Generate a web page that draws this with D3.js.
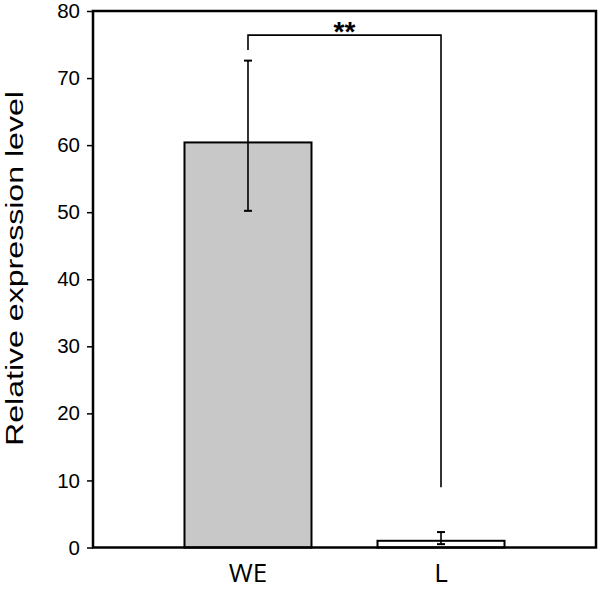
<!DOCTYPE html>
<html>
<head>
<meta charset="utf-8">
<script src="https://cdn.jsdelivr.net/npm/d3@7"></script>
<style>
  html, body { margin: 0; padding: 0; background: #fff; }
  svg { display: block; }
</style>
</head>
<body>
<div id="chart"></div>
<script>
// --- data ---
const categories = ['WE', 'L'];
const means = [60.4, 1.0];
const errHigh = [72.6, 2.3];
const errLow = [50.2, 0.5];
const barColors = ['#c8c8c8', '#ffffff'];
const yTicks = [0, 10, 20, 30, 40, 50, 60, 70, 80];
const yLabel = 'Relative expression level';
// significance bracket: [left leg end, bracket height, right leg end]
const bracket = { from: 'WE', to: 'L', leftEnd: 74.2, top: 76.4, rightEnd: 9.0, label: '**' };

const W = 600, H = 589;
const margin = { top: 11, right: 4, bottom: 41.5, left: 93 };
const width = W - margin.left - margin.right;
const height = H - margin.top - margin.bottom;

const svg = d3.select('#chart').append('svg')
    .attr('width', W)
    .attr('height', H);

const g = svg.append('g')
    .attr('transform', `translate(${margin.left},${margin.top})`);

const x = d3.scaleBand()
    .domain(categories)
    .range([0, width])
    .paddingInner(0.342)
    .paddingOuter(0.474);

const y = d3.scaleLinear()
    .domain([0, 80])
    .range([height, 0]);

// bars
g.selectAll('rect.bar')
    .data(categories)
    .enter().append('rect')
    .attr('class', 'bar')
    .attr('x', d => x(d))
    .attr('y', (d, i) => y(means[i]))
    .attr('width', x.bandwidth())
    .attr('height', (d, i) => y(0) - y(means[i]))
    .attr('fill', (d, i) => barColors[i])
    .attr('stroke', '#000')
    .attr('stroke-width', 2);

// error bars
const cx = d => x(d) + x.bandwidth() / 2;
const err = g.selectAll('g.err')
    .data(categories)
    .enter().append('g')
    .attr('class', 'err');

err.append('line')
    .attr('x1', cx).attr('x2', cx)
    .attr('y1', (d, i) => y(errLow[i]))
    .attr('y2', (d, i) => y(errHigh[i]))
    .attr('stroke', '#000')
    .attr('stroke-width', 1.6);

[errLow, errHigh].forEach(vals => {
    err.append('line')
        .attr('x1', d => cx(d) - 4).attr('x2', d => cx(d) + 4)
        .attr('y1', (d, i) => y(vals[i]))
        .attr('y2', (d, i) => y(vals[i]))
        .attr('stroke', '#000')
        .attr('stroke-width', 2);
});

// frame
g.append('rect')
    .attr('x', 0).attr('y', 0)
    .attr('width', width).attr('height', height)
    .attr('fill', 'none')
    .attr('stroke', '#000')
    .attr('stroke-width', 2.5);

// y axis
const yAxis = g.append('g')
    .call(d3.axisLeft(y).tickValues(yTicks).tickSize(6).tickPadding(7));
yAxis.select('.domain').remove();
yAxis.selectAll('.tick line').attr('stroke', '#000').attr('stroke-width', 1.5);
yAxis.selectAll('.tick text')
    .attr('fill', '#000')
    .style('font-family', '"Liberation Sans", Arial, sans-serif')
    .style('font-size', '20.5px');

// x labels
g.selectAll('text.cat')
    .data(categories)
    .enter().append('text')
    .attr('class', 'cat')
    .attr('x', cx)
    .attr('y', height + 34.5)
    .attr('text-anchor', 'middle')
    .style('font-family', '"Open Sans", sans-serif')
    .style('font-size', '26px')
    .attr('fill', '#000')
    .text(d => d);

// y label
svg.append('text')
    .attr('transform', 'translate(23,268.5) rotate(-90)')
    .attr('text-anchor', 'middle')
    .attr('textLength', 355)
    .attr('lengthAdjust', 'spacingAndGlyphs')
    .style('font-family', '"Liberation Sans", Arial, sans-serif')
    .style('font-size', '23px')
    .attr('fill', '#000')
    .text(yLabel);

// significance bracket
const bx1 = cx(bracket.from), bx2 = cx(bracket.to);
g.append('path')
    .attr('d', `M${bx1},${y(bracket.leftEnd)}V${y(bracket.top)}H${bx2}V${y(bracket.rightEnd)}`)
    .attr('fill', 'none')
    .attr('stroke', '#000')
    .attr('stroke-width', 1.6);

g.append('text')
    .attr('x', (bx1 + bx2) / 2)
    .attr('y', y(bracket.top) + 6)
    .attr('text-anchor', 'middle')
    .style('font-family', '"Liberation Sans", Arial, sans-serif')
    .style('font-size', '28px')
    .style('font-weight', 'bold')
    .attr('fill', '#000')
    .text(bracket.label);
</script>
</body>
</html>
